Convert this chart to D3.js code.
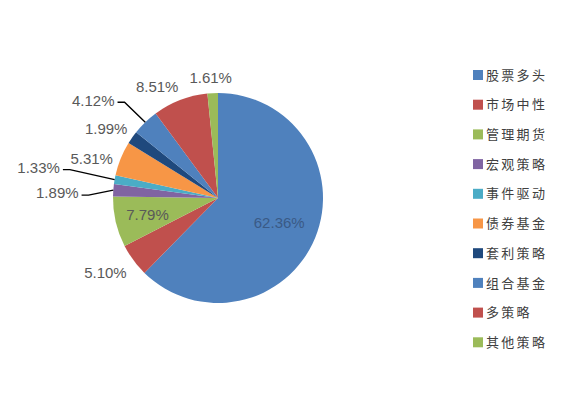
<!DOCTYPE html>
<html>
<head>
<meta charset="utf-8">
<script src="https://cdn.jsdelivr.net/npm/d3@7"></script>
<style>
  body { margin: 0; background: #fff; }
  .lbl { font-family: "Liberation Sans", Arial, sans-serif; font-size: 15px; fill: #595959; }
  .legendText { font-family: "Noto Sans CJK SC", sans-serif; font-size: 13px; fill: #404040; letter-spacing: 2.3px; }
</style>
</head>
<body>
<div id="chart"></div>
<script>
const categories = ['股票多头', '市场中性', '管理期货', '宏观策略', '事件驱动', '债券基金', '套利策略', '组合基金', '多策略', '其他策略']
const shares = [62.36, 5.10, 7.79, 1.89, 1.33, 5.31, 1.99, 4.12, 8.51, 1.61]
const labels = ['62.36%', '5.10%', '7.79%', '1.89%', '1.33%', '5.31%', '1.99%', '4.12%', '8.51%', '1.61%']

const colors = ['#4F81BD', '#C0504D', '#9BBB59', '#8064A2', '#4BACC6', '#F79646', '#1F497D', '#4F81BD', '#C0504D', '#9BBB59']

// label placement: inside slices use a radius factor, outside ones an offset from the rim
const labelSpec = [
  {inside: 0.63},
  {dx: -28, dy: 13},
  {inside: 0.69},
  {dx: -56, dy: 3, leader: true},
  {dx: -76, dy: -12, leader: true},
  {dx: -29, dy: 0},
  {dx: -26, dy: -9},
  {dx: -52, dy: -22, leader: true},
  {dx: -23, dy: -13},
  {dx: -2, dy: -15}
]

const width = 569
const height = 402
const cx = 218
const cy = 198
const radius = 105

const svg = d3.select('#chart').append('svg')
  .attr('width', width)
  .attr('height', height)

const g = svg.append('g').attr('transform', `translate(${cx}, ${cy})`)

const pie = d3.pie().sort(null).value(d => d)
const arcs = pie(shares)
const arc = d3.arc().innerRadius(0).outerRadius(radius)

g.selectAll('.slice')
  .data(arcs)
  .enter()
  .append('path')
  .attr('class', 'slice')
  .attr('d', arc)
  .attr('fill', (d, i) => colors[i])

function polar(a, r) {
  return [r * Math.sin(a), -r * Math.cos(a)]
}

const labelG = g.append('g').attr('class', 'labels')

arcs.forEach((d, i) => {
  const spec = labelSpec[i]
  const mid = (d.startAngle + d.endAngle) / 2
  let x, y
  if (spec.inside) {
    [x, y] = polar(mid, radius * spec.inside)
  } else {
    const rim = polar(mid, radius)
    x = rim[0] + spec.dx
    y = rim[1] + spec.dy
  }
  const t = labelG.append('text')
    .attr('class', 'lbl')
    .attr('x', x)
    .attr('y', y)
    .attr('dy', '0.35em')
    .attr('text-anchor', 'middle')
    .text(labels[i])
  if (i === 0) t.style('fill', '#3a5a86')

  if (spec.leader) {
    const w = t.node().getComputedTextLength()
    const rim = polar(mid, radius)
    const x0 = x + w / 2 + 3
    const y0 = y + 2
    const pts = [[x0, y0], [x0 + 7, y0], rim]
    labelG.append('path')
      .attr('d', d3.line()(pts))
      .attr('fill', 'none')
      .attr('stroke', '#000')
      .attr('stroke-width', 1.4)
  }
})

const legend = svg.append('g').attr('class', 'legend')
  .attr('transform', 'translate(473, 75)')

const legendG = legend.selectAll('.legendG')
  .data(categories)
  .enter()
  .append('g')
  .attr('class', 'legendG')
  .attr('transform', (d, i) => `translate(0, ${i * 29.7})`)

legendG.append('rect')
  .attr('x', 0)
  .attr('y', -5)
  .attr('width', 10)
  .attr('height', 10)
  .attr('fill', (d, i) => colors[i])

legendG.append('text')
  .attr('class', 'legendText')
  .attr('x', 13)
  .attr('dy', '0.36em')
  .text(d => d)
</script>
</body>
</html>
